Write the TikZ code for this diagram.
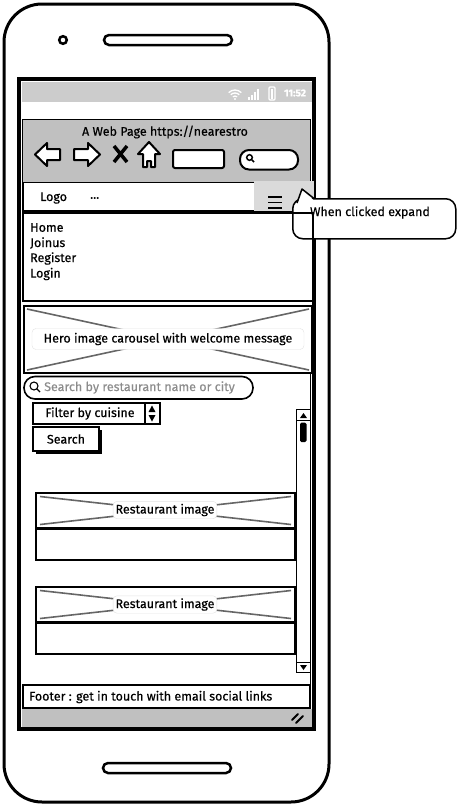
\documentclass[tikz,border=0pt]{standalone}
\usepackage{fontspec}
\setmainfont{Fira Sans}[FakeBold=0.45]
\definecolor{statgray}{HTML}{CCCCCC}
\definecolor{bargray}{HTML}{C0C0C0}
\definecolor{hamgray}{HTML}{DADADA}
\definecolor{xgray}{HTML}{666666}
\definecolor{hintgray}{HTML}{8C8C8C}
\definecolor{lblborder}{HTML}{E2E2E2}
\tikzset{
  txt/.style={inner sep=0pt, font=\fontsize{12.5}{14}\selectfont},
  panel/.style={draw=black, line width=1.3pt},
  xline/.style={draw=xgray, line width=1.6pt},
  imglabel/.style={draw=lblborder, fill=white, rounded corners=4pt, inner sep=2.5pt, font=\fontsize{12.5}{14}\selectfont},
  icon/.style={draw=black, line width=2pt, fill=white, line join=round},
}
\begin{document}
\begin{tikzpicture}[x=1pt,y=-1pt]
\useasboundingbox (0,0) rectangle (456,807);
% phone body
\draw[line width=3pt, rounded corners=38pt] (4,4) rectangle (329,802);
\draw[line width=2.5pt] (63,40) circle (3.8);
\draw[line width=2.5pt, rounded corners=5pt] (104,35) rectangle (232,45);
\draw[line width=2.5pt, rounded corners=5pt] (103,763) rectangle (231,773);
% screen
\draw[line width=4.5pt] (19.2,79.2) rectangle (314,729);
\fill[statgray] (21.5,81.5) rectangle (311.7,102);
% status icons
\foreach \r in {3,6,9} \draw[white, line width=1.3pt] (235,99) ++(225:\r) arc (225:315:\r);
\fill[white] (235,99) circle (1.2);
\foreach \i/\h in {0/3,1/5,2/8,3/11} \fill[white] (248+\i*3,100) rectangle (249.5+\i*3,100-\h);
\draw[white, line width=1.2pt, rounded corners=1pt] (269,87) rectangle (275,100);
\fill[white] (270.8,89) rectangle (273.2,98.5);
\node[txt, text=white, font=\fontsize{10}{12}\selectfont\bfseries] (time) at (295,93) {11:52};
% browser bar
\draw[fill=bargray, line width=1pt] (22,119) rectangle (310,182);
\node[txt] (title) at (165,132) {A Web Page https://nearestro};
\draw[icon] (35,154.5) -- (47,143) -- (47,149) -- (60,149) -- (60,160) -- (47,160) -- (47,166) -- cycle;
\draw[icon] (100,154.5) -- (88,143) -- (88,149) -- (74,149) -- (74,160) -- (88,160) -- (88,166) -- cycle;
\draw[line width=3.5pt] (114,146) -- (127,162) (127,146) -- (114,162);
\draw[icon] (149,142) -- (160,154) -- (155,154) -- (155,167) -- (151,167) -- (151,161) -- (147,161) -- (147,167) -- (143,167) -- (143,154) -- (138,154) -- cycle;
\draw[icon, rounded corners=2pt] (173,150) rectangle (224,168);
\draw[icon, rounded corners=9pt] (240,150) rectangle (298,169.5);
\draw[line width=1.5pt] (249.5,157.5) circle (2.8) (251.5,159.5) -- (254,162);
% nav bar
\draw[fill=white, line width=1.3pt] (23,182.5) rectangle (313,211);
\fill[hamgray] (254,181) rectangle (313.5,211);
\foreach \y in {197,202.5,208} \draw[line width=1.1pt] (268,\y) -- (282,\y);
\node[txt, anchor=west] (logo) at (40,198) {Logo};
\node[txt, anchor=west] (dots) at (90,198) {...};
% callout
\node[draw, line width=1.5pt, rounded corners=10pt, fill=white, minimum width=163pt, minimum height=40pt, anchor=north west, inner sep=0pt] (call) at (292,198) {};
\fill[white] (298,201.5) -- (302,189) -- (315,201.5) -- cycle;
\draw[line width=1.5pt, line join=round] (297,203) -- (302,189) -- (314,198.5);
\node[txt] (calltext) at (370,212.5) {When clicked expand};
% menu
\draw[panel] (23,213) rectangle (313,301);
\node[txt, anchor=west] (home) at (30,227.5) {Home};
\node[txt, anchor=west] (join) at (30,243) {Joinus};
\node[txt, anchor=west] (reg) at (30,258.5) {Register};
\node[txt, anchor=west] (login) at (30,274) {Login};
% hero
\draw[panel] (24,306) rectangle (312,373);
\draw[xline] (27,309) -- (309,370) (309,309) -- (27,370);
\node[imglabel, minimum width=272pt, minimum height=21pt] (hero) at (168,339) {Hero image carousel with welcome message};
% content panel
\draw[line width=1pt] (310,373) -- (310,685);
\draw[line width=1pt] (296.5,409) -- (296.5,672);
\draw[line width=1pt] (296.5,409) rectangle (310,420.5);
\fill (300,418) -- (307,418) -- (303.5,413) -- cycle;
\fill[rounded corners=1.5pt] (300,422.5) rectangle (306.5,442);
\draw[line width=1pt] (296.5,662) rectangle (310,672);
\fill (300,665) -- (307,665) -- (303.5,670) -- cycle;
% search
\draw[line width=1.6pt, rounded corners=11pt] (24,376.5) rectangle (253,399);
\draw[line width=1.1pt] (34,386) circle (4) (36.8,388.8) -- (40,392);
\node[txt, anchor=west, text=hintgray] (hint) at (44,387.5) {Search by restaurant name or city};
% filter
\draw[panel, line width=1.2pt] (33,403) rectangle (160,424);
\draw[line width=1.2pt] (145,403) -- (145,424);
\fill (148.5,412) -- (155.5,412) -- (152,405.5) -- cycle;
\fill (148.5,415) -- (155.5,415) -- (152,421.5) -- cycle;
\node[txt] (filter) at (90,413.5) {Filter by cuisine};
% search button
\fill (36,430) rectangle (102,454);
\draw[fill=white, line width=1.2pt] (33,427) rectangle (99,451);
\node[txt] (searchbtn) at (66,439) {Search};
% card 1
\draw[panel] (36,493) rectangle (295,528);
\draw[xline] (40,496.5) -- (291,524.5) (291,496.5) -- (40,524.5);
\node[imglabel] (img1) at (165,510) {Restaurant image};
\draw[panel] (36,529.5) rectangle (295,560);
% card 2
\draw[panel] (36,587) rectangle (295,622);
\draw[xline] (40,590.5) -- (291,618.5) (291,590.5) -- (40,618.5);
\node[imglabel] (img2) at (165,604.5) {Restaurant image};
\draw[panel] (36,623.5) rectangle (295,654);
% footer
\draw[panel, line width=1.2pt] (23,685) rectangle (310,708);
\node[txt, anchor=west] (footer) at (29,697) {Footer : get in touch with email social links};
\fill[bargray] (21.5,709) rectangle (311.7,726.5);
\draw[line width=2pt, line cap=round] (292,720) -- (298,714) (296,723) -- (303,716);
\end{tikzpicture}
\end{document}
